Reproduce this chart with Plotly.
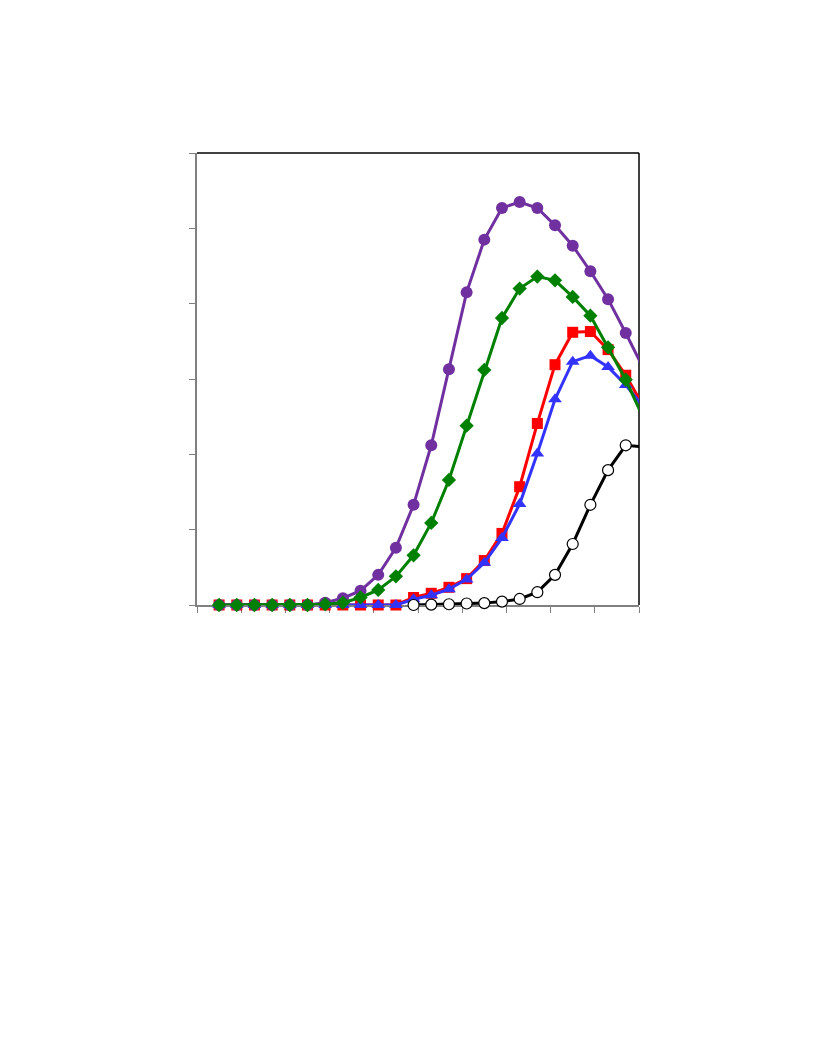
import plotly.graph_objects as go

# x positions of the observations
x_vals = [2.5 + 2 * k for k in range(25)]

purple_vals = [0, 0, 0, 0, 0, 0, 0.3, 0.9, 1.9, 4.0, 7.6, 13.3, 21.2, 31.3, 41.5, 48.5,
               52.7, 53.5, 52.7, 50.4, 47.7, 44.3, 40.6, 36.1, 31.4]
green_vals = [0, 0, 0, 0, 0, 0, 0.1, 0.3, 1.0, 2.0, 3.8, 6.6, 10.9, 16.6, 23.8, 31.2,
              38.1, 42.0, 43.6, 43.1, 40.9, 38.4, 34.2, 29.9, 24.8]
red_vals = [0, 0, 0, 0, 0, 0, 0, 0, 0, 0, 0, 1.0, 1.55, 2.35, 3.5, 5.9,
            9.5, 15.7, 24.1, 31.9, 36.2, 36.3, 33.9, 30.5, 26.4]
blue_vals = [0, 0, 0, 0, 0, 0, 0, 0, 0, 0, 0, 0.75, 1.3, 2.1, 3.4, 5.6,
             8.9, 13.4, 20.1, 27.3, 32.3, 33.1, 31.6, 29.2, 26.3]
black_vals = [None] * 11 + [0, 0.05, 0.1, 0.2, 0.25, 0.45, 0.8, 1.7, 4.0, 8.1,
                            13.3, 17.9, 21.2, 21.0]

x_range = [0, 50]
y_range = [0, 60]

series = [
    (red_vals, "#FF0000", dict(symbol="square", size=11, color="#FF0000")),
    (blue_vals, "#3333FF", dict(symbol="triangle-up", size=12, color="#3333FF")),
    (black_vals, "#000000", dict(symbol="circle", size=11, color="#FFFFFF",
                                 line=dict(color="#000000", width=1.2))),
    (purple_vals, "#7030A0", dict(symbol="circle", size=12, color="#7030A0")),
    (green_vals, "#008000", dict(symbol="diamond", size=11, color="#008000")),
]

fig = go.Figure()
for vals, col, mk in series:
    # line (clipped to plot area)
    fig.add_trace(go.Scatter(x=x_vals, y=vals, mode="lines",
                             line=dict(color=col, width=3),
                             connectgaps=False, showlegend=False,
                             hoverinfo="skip"))
    # markers for points inside the x range (not clipped at the axis)
    xs = [x for x, v in zip(x_vals, vals) if x <= x_range[1] and v is not None]
    ys = [v for x, v in zip(x_vals, vals) if x <= x_range[1] and v is not None]
    fig.add_trace(go.Scatter(x=xs, y=ys, mode="markers", marker=mk,
                             cliponaxis=False, showlegend=False))

fig.update_layout(
    width=816, height=1056,
    margin=dict(l=189, r=185, t=145, b=459),
    paper_bgcolor="white", plot_bgcolor="white",
    xaxis=dict(range=x_range, dtick=5, tick0=0, showgrid=False, zeroline=False,
               showline=True, linecolor="#808080", linewidth=2,
               ticks="outside", ticklen=6, tickcolor="#808080", tickwidth=1,
               showticklabels=False, layer="below traces"),
    yaxis=dict(range=y_range, dtick=10, tick0=0, showgrid=False, zeroline=False,
               showline=True, linecolor="#808080", linewidth=2,
               ticks="outside", ticklen=6, tickcolor="#808080", tickwidth=1,
               showticklabels=False, layer="below traces"),
    shapes=[
        dict(type="line", xref="paper", yref="paper", x0=0, x1=1, y0=1, y1=1,
             line=dict(color="black", width=1.5), layer="below"),
        dict(type="line", xref="paper", yref="paper", x0=1, x1=1, y0=0, y1=1,
             line=dict(color="black", width=1.5), layer="below"),
    ],
)

fig.write_html("out.html")
